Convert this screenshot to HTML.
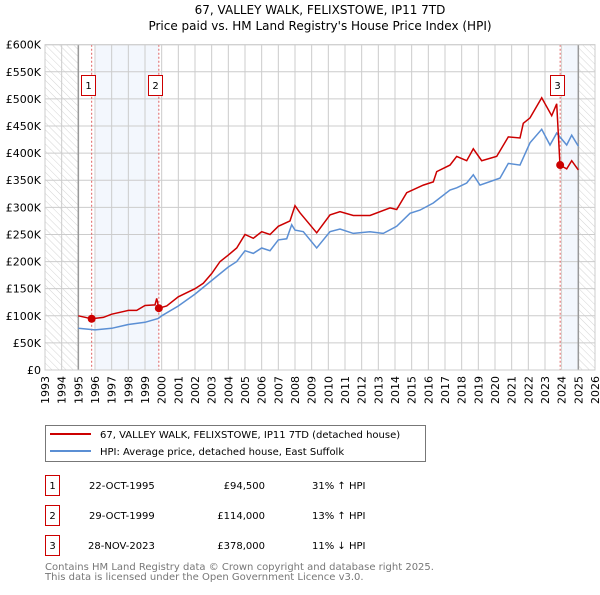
<!DOCTYPE html>
<html><head><meta charset="utf-8"><style>
body{margin:0;background:#fff;}
svg text{font-family:"DejaVu Sans","Liberation Sans",sans-serif;}
</style></head><body>
<svg id="c" width="600" height="590" xmlns="http://www.w3.org/2000/svg">
<defs><pattern id="hatch" width="5" height="5" patternUnits="userSpaceOnUse" patternTransform="rotate(-45)"><line x1="0" y1="0" x2="0" y2="5" stroke="#d4d4d4" stroke-width="1"/></pattern></defs>
<text x="320" y="14" text-anchor="middle" font-size="12">67, VALLEY WALK, FELIXSTOWE, IP11 7TD</text>
<text x="320" y="30" text-anchor="middle" font-size="12">Price paid vs. HM Land Registry's House Price Index (HPI)</text>
<g id="plot"></g>
<g>
<rect x="45.5" y="425.5" width="380" height="36" fill="#fff" stroke="#777"/>
<line x1="50" y1="434" x2="91" y2="434" stroke="#cc0000" stroke-width="2"/>
<text x="100" y="438" font-size="10">67, VALLEY WALK, FELIXSTOWE, IP11 7TD (detached house)</text>
<line x1="50" y1="451" x2="91" y2="451" stroke="#5b8fd4" stroke-width="2"/>
<text x="100" y="455" font-size="10">HPI: Average price, detached house, East Suffolk</text>
</g>
<g font-size="10">
<rect x="45.5" y="475.5" width="14" height="20" fill="none" stroke="#cc0000"/><text x="52.5" y="489" text-anchor="middle">1</text>
<text x="89" y="489">22-OCT-1995</text><text x="265" y="489" text-anchor="end">£94,500</text><text x="312" y="489">31% ↑ HPI</text>
<rect x="45.5" y="505.5" width="14" height="20" fill="none" stroke="#cc0000"/><text x="52.5" y="519" text-anchor="middle">2</text>
<text x="89" y="519">29-OCT-1999</text><text x="265" y="519" text-anchor="end">£114,000</text><text x="312" y="519">13% ↑ HPI</text>
<rect x="45.5" y="535.5" width="14" height="20" fill="none" stroke="#cc0000"/><text x="52.5" y="549" text-anchor="middle">3</text>
<text x="88" y="549">28-NOV-2023</text><text x="265" y="549" text-anchor="end">£378,000</text><text x="312" y="549">11% ↓ HPI</text>
</g>
<text x="45" y="570" font-size="10" fill="#777">Contains HM Land Registry data © Crown copyright and database right 2025.</text>
<text x="45" y="580" font-size="10" fill="#777">This data is licensed under the Open Government Licence v3.0.</text>
</svg>
<script>
const hpiYears=[1995,1996,1997,1998,1999,1999.8,2000,2001,2002,2003,2004,2004.5,2005,2005.5,2006,2006.5,2007,2007.5,2007.8,2008,2008.5,2009.3,2010.1,2010.7,2011.5,2012.5,2013.3,2014.1,2014.9,2015.5,2016.3,2017.3,2017.7,2018.3,2018.7,2019.1,2020.3,2020.8,2021.5,2022.1,2022.8,2023.3,2023.7,2024.3,2024.6,2025];
const hpiValues=[77,74,77,84,88,95,100,118,140,165,190,200,220,215,225,220,240,242,268,258,255,225,255,260,252,255,252,265,289,295,308,332,336,345,360,341,354,381,378,419,444,415,437,415,433,413];
const paidYears=[1995,1995.8,1996.5,1997,1998,1998.5,1999,1999.6,1999.7,1999.83,2000.3,2001,2002,2002.5,2003,2003.5,2004,2004.5,2005,2005.5,2006,2006.5,2007,2007.7,2008,2008.3,2009.3,2010.1,2010.7,2011.5,2012.5,2013.7,2014.1,2014.7,2015.7,2016.3,2016.5,2017.3,2017.7,2018.3,2018.7,2019.2,2020.1,2020.8,2021.5,2021.7,2022.1,2022.8,2023.4,2023.7,2023.9,2024.3,2024.6,2025];
const paidValues=[100,94.5,97,103,110,110,119,120,132,114,118,135,150,160,178,200,212,225,250,243,255,250,265,275,303,290,253,286,292,285,285,299,296,327,341,347,366,378,394,386,408,386,394,430,428,455,465,502,469,491,378,371,386,369];
const saleYears=[1995.8,1999.83,2023.91];
const saleValues=[94.5,114,378];
const saleLabels=["1","2","3"];
const yTicks=[0,50,100,150,200,250,300,350,400,450,500,550,600];
const yTickLabels=["£0","£50K","£100K","£150K","£200K","£250K","£300K","£350K","£400K","£450K","£500K","£550K","£600K"];
const xTicks=[1993,1994,1995,1996,1997,1998,1999,2000,2001,2002,2003,2004,2005,2006,2007,2008,2009,2010,2011,2012,2013,2014,2015,2016,2017,2018,2019,2020,2021,2022,2023,2024,2025,2026];

const L=45,R=595,T=44.7,B=370;
const xs=y=>L+(y-1993)*(R-L)/33;
const ys=v=>B-v*(B-T)/600;
const NS="http://www.w3.org/2000/svg";
const g=document.getElementById('plot');
function mk(t,a){const e=document.createElementNS(NS,t);for(const k in a)e.setAttribute(k,a[k]);g.appendChild(e);return e;}
let e;
e=mk('rect',{x:L,y:T,width:xs(1995)-L,height:B-T,fill:'url(#hatch)'});


e=mk('rect',{x:xs(2025),y:T,width:R-xs(2025),height:B-T,fill:'url(#hatch)'});


e=mk('rect',{x:xs(1996.05),y:T,width:xs(saleYears[1])-xs(1996.05),height:B-T,fill:'#eef3fc',opacity:0.7});


e=mk('rect',{x:xs(2024.1),y:T,width:xs(2025)-xs(2024.1),height:B-T,fill:'#eef3fc',opacity:0.7});


yTicks.forEach((v,i)=>{
 e=mk('line',{x1:L,x2:R,y1:ys(v),y2:ys(v),stroke:'#ccc','stroke-width':1});
 
 
 e=mk('text',{x:L-4,y:ys(v)+4,'text-anchor':'end','font-size':11});
 e.textContent=yTickLabels[i];
 
 
});
xTicks.forEach(y=>{
 e=mk('line',{x1:xs(y),x2:xs(y),y1:T,y2:B,stroke:'#ccc','stroke-width':1});
 
 
 e=mk('text',{x:0,y:0,'text-anchor':'end','font-size':11,transform:`translate(${xs(y)+4},${B+6}) rotate(-90)`});
 e.textContent=y;
 
 
});
[1995,2025].forEach(y=>{e=mk('line',{x1:xs(y),x2:xs(y),y1:T,y2:B,stroke:'#999','stroke-width':1.5});
 
 });
saleYears.forEach(y=>{e=mk('line',{x1:xs(y),x2:xs(y),y1:T,y2:B,stroke:'#e06060','stroke-width':1,'stroke-dasharray':'2,2'});
 
 });
const pts=(xa,va)=>xa.map((y,i)=>xs(y).toFixed(1)+','+ys(va[i]).toFixed(1)).join(' ');
e=mk('polyline',{points:pts(hpiYears,hpiValues),fill:'none',stroke:'#5b8fd4','stroke-width':1.5});


e=mk('polyline',{points:pts(paidYears,paidValues),fill:'none',stroke:'#cc0000','stroke-width':1.5});


saleYears.forEach((y,i)=>{
 e=mk('circle',{cx:xs(y),cy:ys(saleValues[i]),r:4,fill:'#cc0000'});
 
 
 const rx=Math.round(xs(y)-10.5)+0.5;
 e=mk('rect',{x:rx,y:75.5,width:14,height:20,fill:'#fff',stroke:'#cc0000'});
 
 
 e=mk('text',{x:rx+7,y:89,'text-anchor':'middle','font-size':10});
 e.textContent=saleLabels[i];
 
 
});
e=mk('rect',{x:L,y:T,width:R-L,height:B-T,fill:'none',stroke:'#ccc'});


</script>
</body></html>
